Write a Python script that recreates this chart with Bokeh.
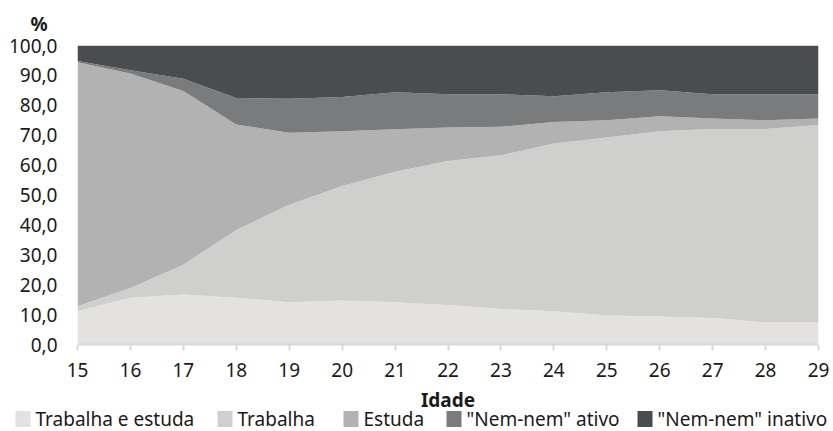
from bokeh.plotting import figure
from bokeh.models import ColumnDataSource, FixedTicker, Range1d
from bokeh.layouts import column
from bokeh.core.properties import value
from bokeh.embed import file_html
from bokeh.resources import INLINE

ages = [15, 16, 17, 18, 19, 20, 21, 22, 23, 24, 25, 26, 27, 28, 29]
trabalha_estuda = [11.1, 15.6, 16.7, 15.6, 14.1, 14.7, 14.1, 13.2, 11.9, 11.1, 9.7, 9.4, 8.9, 7.4, 7.4]
trabalha = [1.7, 3.3, 10.0, 22.7, 32.6, 38.3, 43.7, 48.2, 51.4, 56.1, 59.5, 61.9, 63.2, 64.7, 66.0]
estuda = [81.6, 71.7, 58.1, 35.3, 24.1, 18.3, 14.2, 11.2, 9.5, 7.2, 5.8, 5.0, 3.5, 2.9, 2.2]
nem_ativo = [0.4, 1.1, 4.1, 8.8, 11.4, 11.5, 12.4, 11.1, 10.9, 8.6, 9.4, 8.7, 8.1, 8.7, 8.1]
nem_inativo = [5.2, 8.3, 11.1, 17.6, 17.8, 17.2, 15.6, 16.3, 16.3, 17.0, 15.6, 15.0, 16.3, 16.3, 16.3]

series_names = ["Trabalha e estuda", "Trabalha", "Estuda", '"Nem-nem" ativo', '"Nem-nem" inativo']
colors = ["#e3e2e1", "#cfcfce", "#b1b2b1", "#7a7b7c", "#4a4d50"]
y_ticks = [0, 10, 20, 30, 40, 50, 60, 70, 80, 90, 100]
y_tick_labels = ["0,0", "10,0", "20,0", "30,0", "40,0", "50,0", "60,0", "70,0", "80,0", "90,0", "100,0"]
x_title = "Idade"
y_title = "%"

FONT = "Noto Sans"
TXT = "#1a1a1a"
W = 833
MAIN_H = 385
BOT_H = 46

keys = ["te", "t", "e", "a", "i"]
source = ColumnDataSource(dict(age=ages, te=trabalha_estuda, t=trabalha, e=estuda,
                               a=nem_ativo, i=nem_inativo))

p = figure(width=W, height=MAIN_H, output_backend="svg", toolbar_location=None,
           x_range=Range1d(15, 29), y_range=Range1d(0, 100),
           min_border_left=77, min_border_right=15, min_border_top=45, min_border_bottom=41)
p.outline_line_color = None
p.frame_align = False

p.varea_stack(stackers=keys, x="age", color=colors, source=source)

p.title.text = y_title
p.title.align = "left"
p.title.offset = -47
p.title.text_font = FONT
p.title.text_font_size = "19px"
p.title.text_font_style = "bold"
p.title.text_color = TXT
p.title.standoff = 17

p.xaxis.ticker = FixedTicker(ticks=ages)
p.xaxis.axis_line_color = "#d9d9d9"
p.xaxis.axis_line_width = 2
p.xaxis.major_tick_line_color = "#d9d9d9"
p.xaxis.major_tick_line_width = 2
p.xaxis.major_tick_out = 6
p.xaxis.major_tick_in = 0
p.xaxis.minor_tick_line_color = None
p.xaxis.major_label_text_font = FONT
p.xaxis.major_label_text_font_size = "19px"
p.xaxis.major_label_text_color = TXT
p.xaxis.major_label_standoff = 12

p.yaxis.ticker = FixedTicker(ticks=y_ticks)
p.yaxis.major_label_overrides = {t: l for t, l in zip(y_ticks, y_tick_labels)}
p.yaxis.axis_line_color = None
p.yaxis.major_tick_line_color = None
p.yaxis.minor_tick_line_color = None
p.yaxis.major_label_text_font = FONT
p.yaxis.major_label_text_font_size = "19px"
p.yaxis.major_label_text_color = TXT
p.yaxis.major_label_standoff = 14

p.xgrid.grid_line_color = None
p.ygrid.ticker = FixedTicker(ticks=[100])
p.ygrid.grid_line_color = "#d9d9d9"
p.ygrid.grid_line_width = 2

# bottom strip: x-axis title + legend, in a pixel-aligned coordinate system
legend_item_left = [15, 217, 343, 446, 637]
box_w, box_h, gap = 15, 16, 5
bt = figure(width=W, height=BOT_H, output_backend="svg", toolbar_location=None,
            x_range=Range1d(0, W), y_range=Range1d(BOT_H, 0),
            min_border=0, min_border_left=0, min_border_right=0,
            min_border_top=0, min_border_bottom=0)
bt.frame_align = False
bt.axis.visible = False
bt.grid.visible = False
bt.outline_line_color = None

# x-axis title centred under the plot frame (frame spans 77..818)
bt.text(x=[(77 + 818) / 2], y=[14], text=[x_title], text_font=value(FONT),
        text_font_size="19px", text_font_style="bold", text_color=TXT,
        text_align="center", text_baseline="middle")

leg_src = ColumnDataSource(dict(
    bx=[x + box_w / 2 for x in legend_item_left],
    tx=[x + box_w + gap for x in legend_item_left],
    by=[33.5] * len(series_names),
    ty=[33] * len(series_names),
    color=colors,
    label=series_names))
bt.rect(x="bx", y="by", width=box_w, height=box_h, fill_color="color", line_color=None,
        source=leg_src)
bt.text(x="tx", y="ty", text="label", source=leg_src, text_font=value(FONT),
        text_font_size="19px", text_color=TXT, text_align="left", text_baseline="middle")

layout = column(p, bt, spacing=0)
open("out.html", "w").write(file_html(layout, INLINE))
